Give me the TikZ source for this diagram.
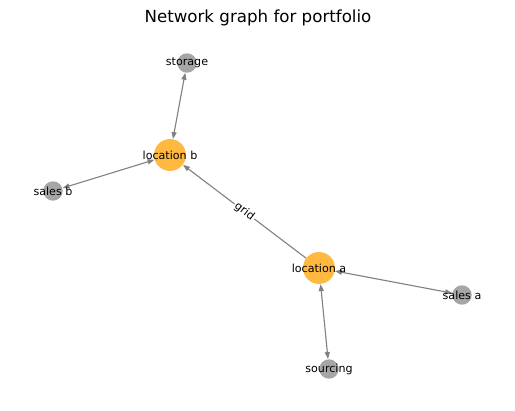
\documentclass[tikz,border=0pt]{standalone}
\usepackage{fontspec}
\setmainfont{DejaVu Sans}
\usetikzlibrary{arrows.meta}

\definecolor{edgegray}{RGB}{128,128,128}
\definecolor{sitefill}{RGB}{255,185,64}
\definecolor{leaffill}{RGB}{166,166,166}

\tikzset{
  site/.style={circle,fill=sitefill,minimum size=23pt,inner sep=0pt},
  leaf/.style={circle,fill=leaffill,minimum size=14pt,inner sep=0pt},
  tag/.style={font=\fontsize{8}{9}\selectfont},
  edge/.style={draw=edgegray,line width=0.8pt,
    arrows={Triangle[length=5pt,width=3.6pt]-Triangle[length=5pt,width=3.6pt]}},
  oneway/.style={draw=edgegray,line width=0.8pt,-{Triangle[length=5pt,width=3.6pt]}}
}

\begin{document}
\begin{tikzpicture}[x=0.72pt,y=-0.72pt]

\useasboundingbox (0,0) rectangle (515,411);

\node[font=\fontsize{12}{14}\selectfont] (title) at (258,18) {Network graph for portfolio};

\node[site] (locb) at (170,155) {}; % location b
\node[site] (loca) at (319,268) {}; % location a
\node[leaf] (storage) at (187,63) {};
\node[leaf] (salesb) at (53,191) {};
\node[leaf] (salesa) at (462,295) {};
\node[leaf] (sourcing) at (329,369) {};

\draw[edge] (locb) -- (storage);
\draw[edge] (locb) -- (salesb);
\draw[edge] (loca) -- (salesa);
\draw[edge] (loca) -- (sourcing);
\draw[oneway] (loca) -- node[midway,sloped,fill=white,inner sep=1pt,tag] {grid} (locb);

\node[tag] at (locb) {location b};
\node[tag] at (loca) {location a};
\node[tag] at (storage) {storage};
\node[tag] at (salesb) {sales b};
\node[tag] at (salesa) {sales a};
\node[tag] at (sourcing) {sourcing};

\end{tikzpicture}
\end{document}
